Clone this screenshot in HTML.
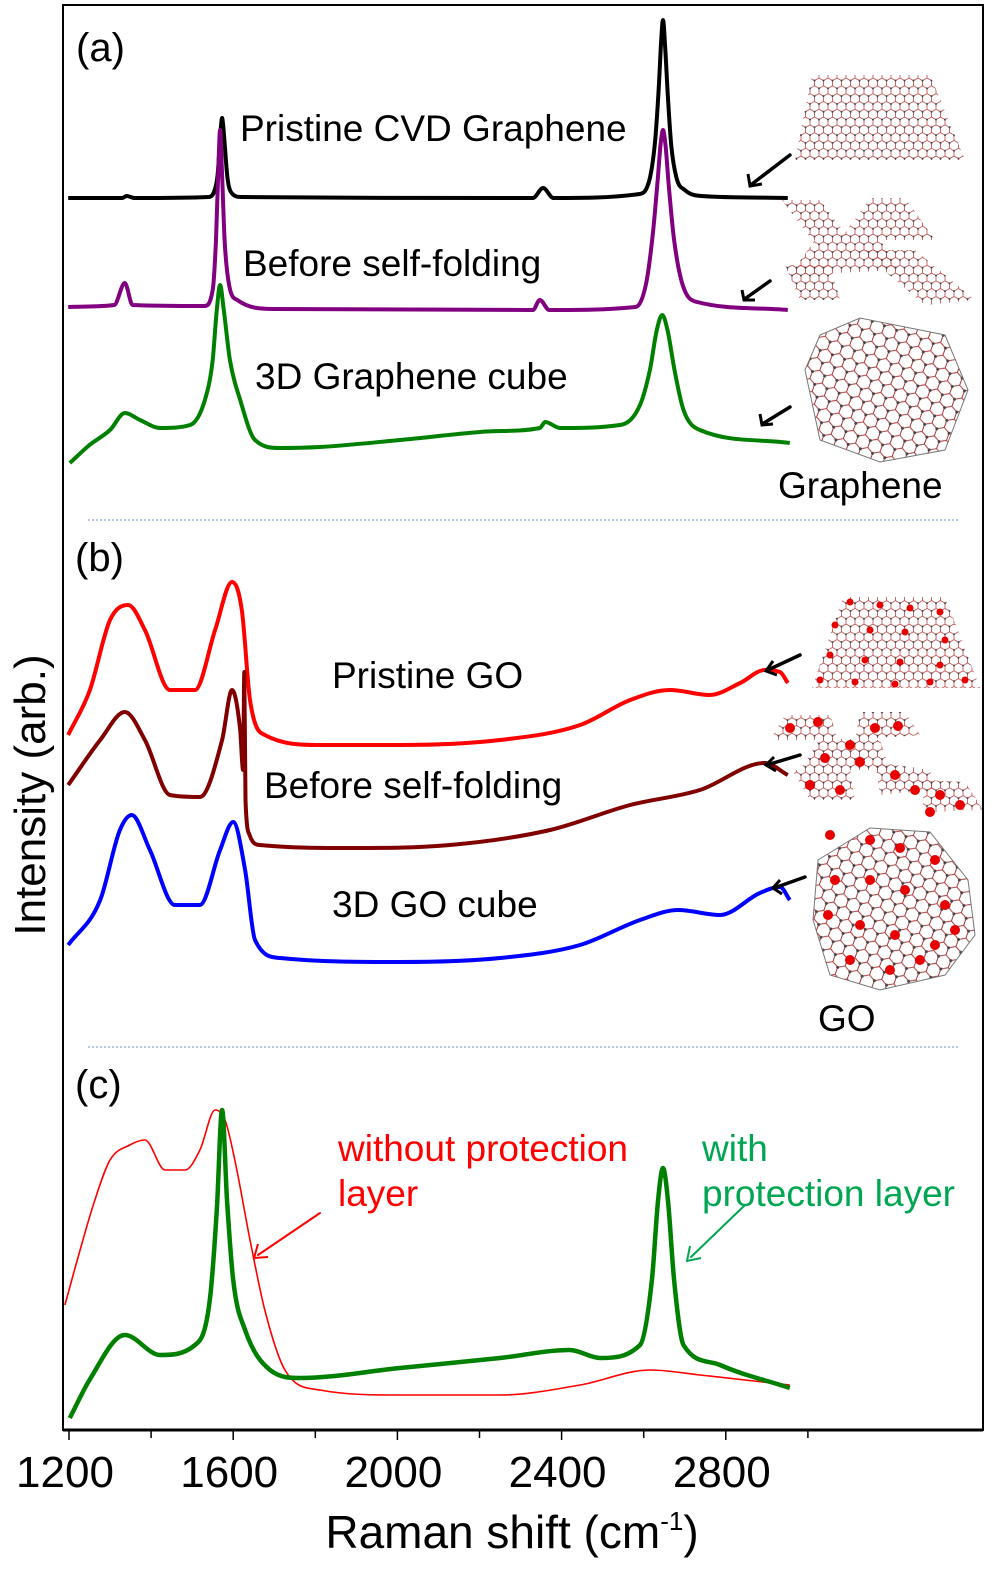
<!DOCTYPE html>
<html><head><meta charset="utf-8">
<style>
html,body{margin:0;padding:0;background:#fff;}
svg{display:block;font-family:"Liberation Sans",Arial,sans-serif;}
</style></head>
<body>
<svg id="chart" width="1000" height="1582" viewBox="0 0 1000 1582">
<defs>
<pattern id="hex" width="9" height="15.6" patternUnits="userSpaceOnUse">
<path d="M0,0 L4.5,2.6 L4.5,7.8 L0,10.4 M4.5,2.6 L9,0 M4.5,7.8 L9,10.4 M0,10.4 L0,15.6 M9,10.4 L9,15.6" stroke="#b44" stroke-width="0.8" fill="none"/>
<circle cx="4.5" cy="2.6" r="1" fill="#444"/><circle cx="0" cy="10.4" r="1" fill="#444"/><circle cx="9" cy="10.4" r="1" fill="#444"/>
</pattern>
<pattern id="hexbig" width="13" height="22.5" patternUnits="userSpaceOnUse" patternTransform="rotate(20)">
<path d="M0,0 L6.5,3.75 L6.5,11.25 L0,15 M6.5,3.75 L13,0 M6.5,11.25 L13,15 M0,15 L0,22.5 M13,15 L13,22.5" stroke="#a33" stroke-width="1" fill="none"/>
<circle cx="6.5" cy="3.75" r="1.5" fill="#444"/><circle cx="0" cy="15" r="1.5" fill="#444"/><circle cx="13" cy="15" r="1.5" fill="#444"/>
</pattern>
</defs>
<rect x="63" y="5" width="920" height="1425" fill="none" stroke="#000" stroke-width="2"/>
<g id="xaxis"></g>
<g id="curves"></g>
<line x1="88" y1="520" x2="958" y2="520" stroke="#6b8fd6" stroke-width="1" stroke-dasharray="2,2"/>
<line x1="88" y1="1047" x2="958" y2="1047" stroke="#6b8fd6" stroke-width="1" stroke-dasharray="2,2"/>
<g font-size="37" fill="#000">
<text x="76" y="61" font-size="40">(a)</text>
<text x="240" y="141">Pristine CVD Graphene</text>
<text x="243" y="276">Before self-folding</text>
<text x="255" y="389">3D Graphene cube</text>
<text x="778" y="498">Graphene</text>
<text x="75" y="571" font-size="40">(b)</text>
<text x="332" y="688">Pristine GO</text>
<text x="264" y="798">Before self-folding</text>
<text x="332" y="917">3D GO cube</text>
<text x="818" y="1031">GO</text>
<text x="75" y="1098" font-size="40">(c)</text>
<text x="338" y="1161" fill="#ff0000">without protection</text>
<text x="338" y="1206" fill="#ff0000">layer</text>
<text x="702" y="1161" fill="#00a651">with</text>
<text x="702" y="1206" fill="#00a651">protection layer</text>
</g>
<text transform="translate(45,795) rotate(-90)" text-anchor="middle" font-size="44">Intensity (arb.)</text>
<text x="512" y="1548" text-anchor="middle" font-size="46">Raman shift (cm<tspan font-size="26" dy="-18">-1</tspan><tspan dy="18">)</tspan></text>
<g stroke-width="3.5" stroke-linecap="round">
<g stroke="#000">
<line x1="790" y1="155" x2="752" y2="184"/><line x1="770" y1="281" x2="746" y2="298"/><line x1="790" y1="407" x2="764" y2="423"/>
<line x1="800" y1="655" x2="770" y2="669"/><line x1="800" y1="755" x2="770" y2="764"/><line x1="805" y1="877" x2="777" y2="887"/>
</g>
<line x1="320" y1="1213" x2="258" y2="1255" stroke="#ff0000" stroke-width="2"/>
<line x1="745" y1="1205" x2="691" y2="1257" stroke="#00a651" stroke-width="2"/>
</g>
<g fill="none" stroke-width="3">
<polyline points="748,174 750,186 762,184" stroke="#000"/><polyline points="742,290 744,300 755,300" stroke="#000"/><polyline points="760,414 762,425 773,424" stroke="#000"/>
<polyline points="773,661 766,671 777,675" stroke="#000"/><polyline points="774,757 766,765 776,771" stroke="#000"/><polyline points="780,880 773,888 782,894" stroke="#000"/>
<polyline points="258,1244 254,1258 268,1257" stroke="#ff0000" stroke-width="2"/>
<polyline points="690,1246 687,1261 701,1258" stroke="#00a651" stroke-width="2"/>
</g>
<g>
<polygon points="812,75 930,75 965,160 795,160" fill="url(#hex)"/>
<g fill="url(#hex)">
<polygon points="782,200 820,200 850,240 812,240"/><polygon points="870,198 905,198 935,240 840,240"/><polygon points="815,240 880,240 900,270 790,275"/>
<polygon points="860,250 915,250 975,300 925,305"/><polygon points="785,265 830,265 840,300 800,300"/>
</g>
<polygon points="860,318 945,335 968,390 945,450 880,462 820,440 805,370 820,335" fill="url(#hexbig)" stroke="#777" stroke-width="1"/>
<polygon points="843,597 945,597 980,688 812,688" fill="url(#hex)"/>
<g fill="url(#hex)">
<polygon points="785,715 830,715 838,740 770,740"/><polygon points="860,712 905,712 920,735 855,740"/>
<polygon points="820,738 880,740 890,770 800,770"/><polygon points="792,770 850,770 855,800 810,800"/>
<polygon points="875,762 930,770 935,790 880,795"/><polygon points="925,780 965,782 983,810 922,812"/>
</g>
<polygon points="870,828 930,832 968,880 975,935 945,975 880,990 830,975 813,920 818,860" fill="url(#hexbig)" stroke="#777" stroke-width="1"/>
<g fill="#e60000" id="godots"></g>
</g>
</svg>
<script>
const xTicks = [1200, 1600, 2000, 2400, 2800];
const xMinorTicks = [1400, 1800, 2200, 2600, 3000];
const blackX = [1198,1330,1340,1360,1540,1555,1562,1567,1570,1573,1576,1580,1586,1596,1620,2330,2355,2380,2590,2615,2628,2637,2642,2647,2652,2658,2667,2680,2700,2740,2951];
const blackY = [1232,1232,1234,1232,1233,1240,1255,1285,1303,1312,1303,1282,1252,1237,1233,1232,1242,1232,1236,1252,1290,1345,1385,1410,1385,1340,1285,1252,1240,1234,1232];
const purpleX = [1198,1310,1336,1355,1530,1550,1558,1563,1568,1573,1579,1590,1610,1700,2330,2347,2370,2580,2605,2622,2634,2641,2647,2653,2661,2674,2695,2730,2951];
const purpleY = [1123,1125,1147,1125,1124,1140,1190,1250,1300,1255,1190,1145,1130,1121,1120,1130,1120,1123,1145,1195,1250,1285,1300,1285,1245,1190,1145,1128,1120];
const greenAX = [1202,1250,1300,1336,1373,1422,1495,1531,1550,1560,1568,1577,1592,1617,1653,1714,1811,2006,2201,2347,2360,2396,2542,2591,2615,2632,2645,2658,2675,2697,2737,2956];
const greenAY = [967,985,1000,1017,1010,1002,1005,1030,1070,1120,1145,1120,1070,1030,990,982,983,990,998,1002,1008,1002,1005,1025,1060,1100,1115,1100,1060,1020,1000,987];
const redGOX = [1198,1251,1300,1344,1385,1446,1507,1556,1597,1621,1641,1677,1811,2006,2250,2445,2567,2664,2761,2835,2895,2932,2951];
const redGOY = [695,740,810,825,800,740,740,800,848,820,730,695,685,685,690,705,730,740,735,747,760,758,747];
const darkX = [1198,1276,1336,1385,1446,1519,1573,1597,1617,1624,1627,1630,1640,1665,1885,2128,2372,2567,2737,2895,2951];
const darkY = [645,690,718,690,635,633,690,740,700,660,758,630,595,585,582,585,600,625,640,667,655];
const blueX = [1198,1276,1324,1353,1397,1458,1519,1568,1600,1629,1653,1714,2006,2250,2445,2591,2684,2786,2883,2932,2956];
const blueY = [485,530,600,615,580,525,525,580,608,560,490,472,468,472,485,510,520,515,537,543,530];
const redCX = [1190,1227,1263,1300,1348,1385,1434,1483,1519,1556,1580,1604,1641,1677,1726,1811,2006,2250,2445,2616,2737,2956];
const redCY = [125,180,230,270,285,290,260,260,280,320,310,270,190,120,60,40,35,35,45,60,55,45];
const greenCX = [1202,1250,1336,1422,1507,1543,1560,1573,1585,1600,1629,1690,1763,2006,2250,2420,2494,2591,2620,2635,2647,2659,2674,2697,2786,2956];
const greenCY = [12,50,95,75,85,130,220,320,230,150,100,60,52,62,72,80,72,85,150,230,262,230,150,85,65,42];

const NS = "http://www.w3.org/2000/svg";
function xScale(v){ return 69 + (v - 1200) * 0.4105; }
function yScale(v){ return 1430 - v; }
const axisG = document.getElementById('xaxis');
const ax = document.createElementNS(NS,'line');
ax.setAttribute('x1',63);ax.setAttribute('x2',983);ax.setAttribute('y1',1430);ax.setAttribute('y2',1430);
ax.setAttribute('stroke','#000');ax.setAttribute('stroke-width',3);


axisG.appendChild(ax);
xTicks.forEach(t=>{
  const l=document.createElementNS(NS,'line');
  l.setAttribute('x1',xScale(t));l.setAttribute('x2',xScale(t));l.setAttribute('y1',1430);l.setAttribute('y2',1440);
  l.setAttribute('stroke','#000');l.setAttribute('stroke-width',1.5);
  
  
  axisG.appendChild(l);
  const tx=document.createElementNS(NS,'text');
  tx.setAttribute('x',xScale(t)-4);tx.setAttribute('y',1487);tx.setAttribute('text-anchor','middle');tx.setAttribute('font-size',44);
  tx.textContent=t;
  
  
  axisG.appendChild(tx);
});
xMinorTicks.forEach(t=>{
  const l=document.createElementNS(NS,'line');
  l.setAttribute('x1',xScale(t));l.setAttribute('x2',xScale(t));l.setAttribute('y1',1430);l.setAttribute('y2',1438);
  l.setAttribute('stroke','#000');l.setAttribute('stroke-width',1.5);
  
  
  axisG.appendChild(l);
});
const cg=document.getElementById('curves');
function draw(xs,ys,color,w,name){
  const P=xs.map((x,i)=>[xScale(x),yScale(ys[i])]);
  const n=P.length;
  const sec=[];
  for(let i=0;i!==n-1;i++){ sec.push((P[i+1][1]-P[i][1])/Math.max(0.3,P[i+1][0]-P[i][0])); }
  const m=P.map((p,i)=>{
    if(i===0) return sec[0];
    if(i===n-1) return sec[n-2];
    const a=sec[i-1],b=sec[i];
    if(a*b<=0) return 0;
    const avg=(a+b)/2;
    const lim=3*Math.min(Math.abs(a),Math.abs(b));
    return Math.sign(avg)*Math.min(Math.abs(avg),lim);
  });
  let d='M'+P[0][0].toFixed(1)+','+P[0][1].toFixed(1);
  for(let i=0;i!==n-1;i++){
    const dx=(P[i+1][0]-P[i][0])/3;
    const c1=[P[i][0]+dx,P[i][1]+m[i]*dx];
    const c2=[P[i+1][0]-dx,P[i+1][1]-m[i+1]*dx];
    d+=' C'+c1[0].toFixed(1)+','+c1[1].toFixed(1)+' '+c2[0].toFixed(1)+','+c2[1].toFixed(1)+' '+P[i+1][0].toFixed(1)+','+P[i+1][1].toFixed(1);
  }
  const p=document.createElementNS(NS,'path');
  p.setAttribute('d',d);
  p.setAttribute('fill','none');p.setAttribute('stroke',color);p.setAttribute('stroke-width',w);
  p.setAttribute('stroke-linejoin','round');
  
  
  cg.appendChild(p);
}
draw(blackX,blackY,'#000',4,'series-pristine-cvd-graphene');
draw(purpleX,purpleY,'#800080',4,'series-before-folding-graphene');
draw(greenAX,greenAY,'#008000',4,'series-3d-graphene-cube');
draw(redGOX,redGOY,'#ff0000',4,'series-pristine-go');
draw(darkX,darkY,'#800000',4,'series-before-folding-go');
draw(blueX,blueY,'#0000ff',4,'series-3d-go-cube');
draw(redCX,redCY,'#ff0000',1.6,'series-without-protection');
draw(greenCX,greenCY,'#008000',4.5,'series-with-protection');
const dots=[[850,602],[880,605],[910,608],[940,612],[835,625],[870,630],[905,632],[945,640],[830,655],[865,660],[900,662],[940,665],[820,680],[855,682],[895,684],[930,682],[965,680],
[790,728],[818,722],[850,745],[875,728],[898,726],[825,758],[860,762],[810,785],[840,790],[895,775],[915,790],[940,795],[960,805],[930,812],
[830,835],[870,840],[900,848],[935,860],[835,880],[870,880],[905,890],[945,905],[828,915],[860,925],[895,935],[935,945],[850,960],[890,970],[920,960],[955,930]];
const dg=document.getElementById('godots');
dots.forEach(d=>{const c=document.createElementNS(NS,'circle');c.setAttribute('cx',d[0]);c.setAttribute('cy',d[1]);c.setAttribute('r',d[1]>700?5:3.5);


dg.appendChild(c);});
</script>
</body></html>
